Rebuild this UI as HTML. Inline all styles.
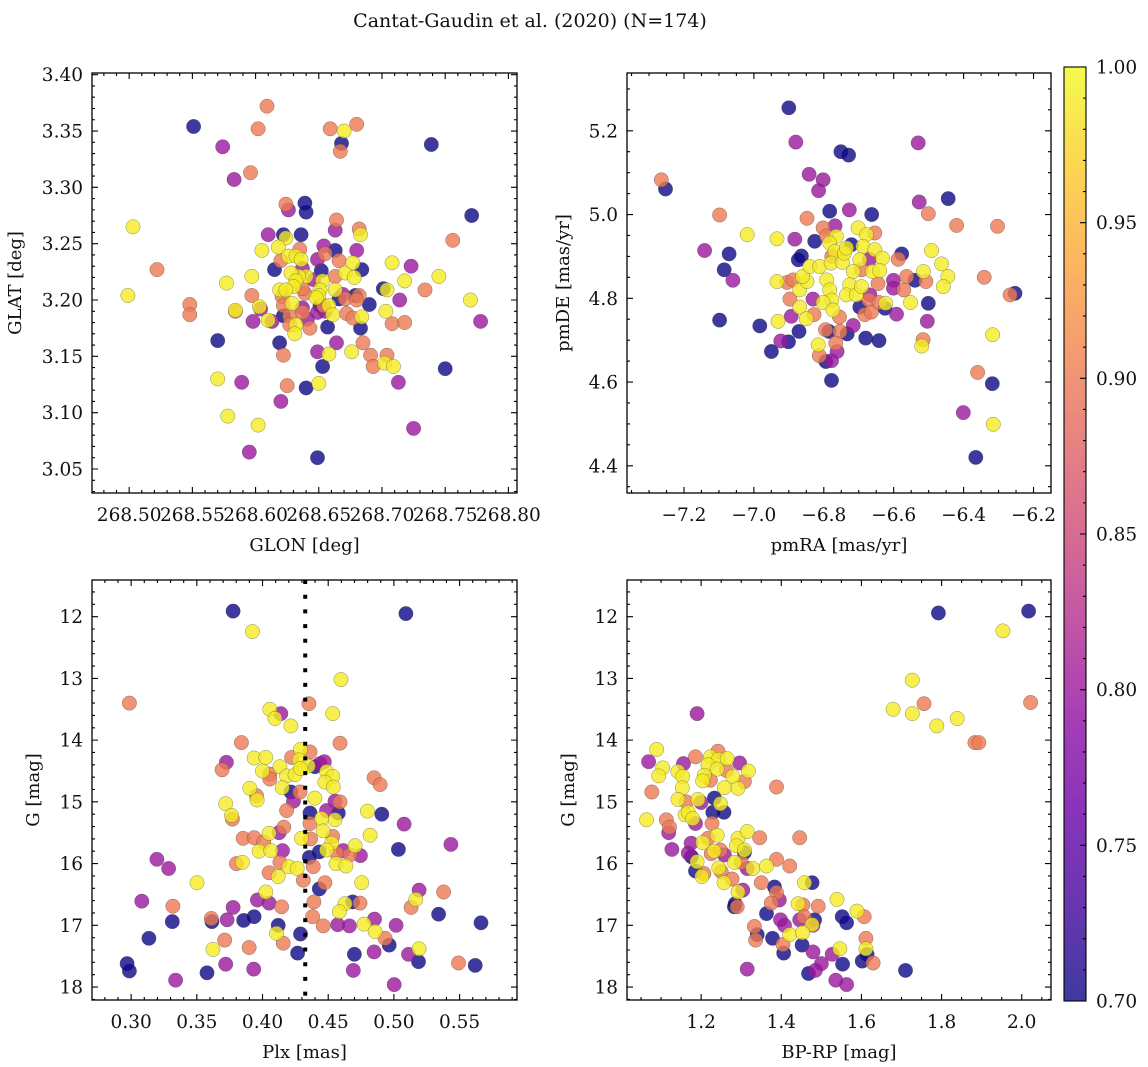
<!DOCTYPE html>
<html><head><meta charset="utf-8">
<style>
html,body{margin:0;padding:0;background:#fff;}
svg{display:block;font-family:"DejaVu Serif","Liberation Serif",serif;}
</style></head>
<body>
<svg id="fig" width="1148" height="1067" viewBox="0 0 1148 1067" xmlns="http://www.w3.org/2000/svg">
<text x="530" y="27" font-size="19" text-anchor="middle" fill="#111">Cantat-Gaudin et al. (2020) (N=174)</text>
</svg>
<script>
// ---- data (x, y, membership probability) ----
const glonGlat = [[268.551,3.354,.7],[268.609,3.372,.9],[268.602,3.352,.9],[268.574,3.336,.8],[268.583,3.307,.8],[268.596,3.313,.9],[268.659,3.352,.9],[268.670,3.350,.99],[268.680,3.356,.9],[268.668,3.339,.7],[268.667,3.332,.9],[268.739,3.338,.7],[268.503,3.265,.99],[268.522,3.227,.9],[268.499,3.204,.99],[268.548,3.196,.9],[268.548,3.187,.9],[268.570,3.164,.7],[268.570,3.130,.99],[268.578,3.097,.99],[268.589,3.127,.8],[268.602,3.089,.99],[268.595,3.065,.8],[268.620,3.110,.8],[268.625,3.124,.9],[268.640,3.122,.7],[268.650,3.126,.99],[268.649,3.060,.7],[268.653,3.141,.7],[268.649,3.154,.8],[268.658,3.152,.99],[268.664,3.162,.8],[268.676,3.154,.99],[268.685,3.162,.9],[268.691,3.151,.9],[268.693,3.141,.9],[268.702,3.144,.99],[268.704,3.151,.9],[268.709,3.141,.99],[268.713,3.127,.8],[268.725,3.086,.8],[268.750,3.139,.7],[268.771,3.275,.7],[268.756,3.253,.9],[268.745,3.221,.99],[268.734,3.209,.9],[268.708,3.233,.99],[268.718,3.217,.99],[268.723,3.230,.8],[268.770,3.200,.99],[268.778,3.181,.8],[268.714,3.200,.8],[268.704,3.209,.99],[268.701,3.210,.7],[268.703,3.190,.99],[268.708,3.179,.9],[268.718,3.180,.9],[268.690,3.196,.7],[268.684,3.185,.99],[268.683,3.175,.7],[268.684,3.227,.7],[268.680,3.244,.8],[268.682,3.263,.9],[268.683,3.258,.99],[268.664,3.271,.9],[268.663,3.262,.8],[268.663,3.244,.7],[268.666,3.235,.9],[268.671,3.224,.99],[268.677,3.233,.99],[268.678,3.220,.99],[268.669,3.205,.8],[268.671,3.201,.9],[268.679,3.204,.7],[268.682,3.204,.9],[268.680,3.200,.9],[268.672,3.188,.9],[268.677,3.184,.9],[268.663,3.209,.99],[268.666,3.201,.7],[268.658,3.195,.99],[268.661,3.187,.99],[268.657,3.176,.7],[268.663,3.221,.9],[268.654,3.248,.8],[268.655,3.241,.9],[268.649,3.236,.8],[268.652,3.226,.7],[268.653,3.217,.99],[268.651,3.209,.99],[268.650,3.204,.99],[268.648,3.202,.99],[268.646,3.218,.8],[268.651,3.195,.7],[268.649,3.189,.8],[268.654,3.195,.9],[268.655,3.190,.8],[268.641,3.183,.8],[268.643,3.175,.9],[268.639,3.206,.9],[268.637,3.210,.9],[268.640,3.221,.99],[268.634,3.221,.99],[268.637,3.228,.8],[268.636,3.258,.7],[268.639,3.286,.7],[268.640,3.278,.7],[268.624,3.285,.9],[268.626,3.280,.8],[268.624,3.255,.99],[268.622,3.258,.7],[268.610,3.258,.8],[268.605,3.244,.99],[268.618,3.247,.99],[268.626,3.239,.99],[268.635,3.245,.9],[268.632,3.239,.99],[268.636,3.236,.99],[268.615,3.227,.7],[268.620,3.235,.9],[268.628,3.224,.99],[268.632,3.217,.99],[268.630,3.212,.99],[268.619,3.209,.99],[268.624,3.209,.99],[268.621,3.203,.9],[268.629,3.197,.99],[268.622,3.195,.9],[268.622,3.186,.7],[268.627,3.186,.9],[268.627,3.178,.9],[268.632,3.178,.99],[268.631,3.170,.99],[268.637,3.189,.9],[268.637,3.193,.8],[268.597,3.221,.99],[268.597,3.204,.9],[268.577,3.215,.99],[268.584,3.190,.9],[268.584,3.191,.99],[268.604,3.192,.8],[268.603,3.194,.99],[268.610,3.182,.99],[268.613,3.181,.8],[268.598,3.181,.8],[268.619,3.162,.7],[268.622,3.151,.9]];

const pmPoints = [[-6.900,5.255,.7],[-6.880,5.173,.8],[-6.751,5.150,.7],[-6.729,5.142,.7],[-6.530,5.171,.8],[-7.265,5.083,.9],[-7.253,5.061,.7],[-6.842,5.096,.8],[-6.802,5.083,.8],[-6.815,5.057,.8],[-6.444,5.038,.7],[-6.527,5.030,.8],[-6.501,5.002,.9],[-6.783,5.008,.7],[-6.727,5.011,.8],[-6.663,5.000,.7],[-7.098,4.999,.9],[-6.420,4.974,.9],[-6.303,4.972,.9],[-7.019,4.952,.99],[-7.141,4.914,.8],[-7.071,4.906,.7],[-7.085,4.868,.7],[-7.060,4.843,.8],[-7.098,4.748,.7],[-6.983,4.734,.7],[-6.950,4.673,.7],[-6.923,4.698,.8],[-6.901,4.696,.7],[-6.871,4.721,.7],[-6.931,4.745,.99],[-6.848,4.991,.9],[-6.883,4.941,.8],[-6.934,4.942,.99],[-6.934,4.840,.99],[-6.826,4.936,.7],[-6.864,4.901,.7],[-6.873,4.892,.7],[-6.905,4.838,.9],[-6.888,4.844,.9],[-6.897,4.798,.9],[-6.893,4.757,.8],[-6.869,4.779,.99],[-6.850,4.751,.99],[-6.828,4.761,.9],[-6.831,4.798,.8],[-6.869,4.820,.99],[-6.848,4.840,.99],[-6.861,4.852,.99],[-6.840,4.876,.99],[-6.812,4.876,.99],[-6.802,4.968,.9],[-6.792,4.949,.9],[-6.768,4.973,.8],[-6.764,4.948,.99],[-6.783,4.932,.99],[-6.768,4.912,.99],[-6.777,4.900,.9],[-6.779,4.884,.99],[-6.792,4.844,.99],[-6.783,4.820,.99],[-6.777,4.796,.99],[-6.802,4.790,.99],[-6.774,4.772,.99],[-6.755,4.755,.9],[-6.795,4.725,.9],[-6.785,4.721,.7],[-6.754,4.721,.9],[-6.766,4.693,.9],[-6.762,4.673,.8],[-6.816,4.689,.99],[-6.813,4.663,.9],[-6.794,4.649,.7],[-6.778,4.651,.8],[-6.778,4.604,.7],[-6.733,4.715,.7],[-6.716,4.735,.8],[-6.680,4.705,.7],[-6.642,4.699,.7],[-6.747,4.886,.99],[-6.741,4.908,.99],[-6.721,4.928,.7],[-6.735,4.920,.99],[-6.702,4.968,.99],[-6.678,4.952,.99],[-6.654,4.956,.9],[-6.688,4.924,.99],[-6.654,4.916,.99],[-6.632,4.896,.99],[-6.669,4.893,.8],[-6.697,4.892,.99],[-6.716,4.864,.99],[-6.692,4.868,.9],[-6.661,4.864,.99],[-6.640,4.866,.99],[-6.645,4.835,.9],[-6.726,4.832,.99],[-6.735,4.808,.99],[-6.707,4.808,.99],[-6.692,4.828,.99],[-6.668,4.808,.8],[-6.697,4.779,.7],[-6.671,4.796,.9],[-6.683,4.761,.9],[-6.664,4.767,.9],[-6.625,4.776,.7],[-6.623,4.788,.99],[-6.642,4.790,.9],[-6.592,4.762,.8],[-6.601,4.843,.8],[-6.601,4.824,.8],[-6.571,4.820,.9],[-6.563,4.852,.9],[-6.587,4.893,.9],[-6.577,4.906,.7],[-6.539,4.843,.7],[-6.508,4.840,.9],[-6.515,4.864,.99],[-6.492,4.914,.99],[-6.463,4.882,.99],[-6.445,4.852,.99],[-6.458,4.828,.99],[-6.552,4.790,.99],[-6.501,4.788,.7],[-6.504,4.745,.8],[-6.516,4.701,.9],[-6.520,4.686,.99],[-6.341,4.850,.9],[-6.267,4.808,.9],[-6.253,4.812,.7],[-6.317,4.713,.99],[-6.360,4.623,.9],[-6.318,4.596,.7],[-6.401,4.527,.8],[-6.315,4.499,.99],[-6.365,4.420,.7]];

const plxG = [[.3776,11.91,.7],[.5091,11.95,.7],[.3923,12.24,.99],[.4597,13.02,.99],[.2987,13.40,.9],[.4353,13.41,.9],[.4055,13.50,.99],[.4139,13.57,.8],[.4094,13.65,.99],[.4534,13.57,.99],[.4216,13.77,.99],[.3839,14.04,.9],[.4590,14.05,.9],[.3725,14.36,.8],[.3692,14.48,.9],[.3936,14.29,.99],[.4025,14.28,.99],[.4221,14.28,.9],[.4289,14.15,.99],[.4361,14.19,.9],[.4279,14.32,.99],[.4348,14.42,.99],[.4399,14.43,.7],[.4437,14.38,.8],[.4470,14.35,.8],[.4132,14.43,.99],[.4000,14.50,.99],[.4055,14.55,.9],[.4055,14.63,.9],[.4183,14.58,.99],[.4247,14.56,.99],[.4289,14.46,.99],[.4488,14.51,.99],[.4534,14.59,.99],[.4475,14.68,.99],[.4539,14.76,.99],[.4849,14.61,.9],[.4895,14.72,.9],[.3903,14.78,.99],[.3954,14.90,.9],[.3959,14.97,.99],[.4150,14.77,.99],[.4216,14.84,.7],[.4285,14.84,.9],[.4236,14.99,.8],[.4399,14.94,.99],[.3720,15.03,.99],[.3764,15.22,.99],[.3771,15.28,.9],[.4183,15.14,.9],[.4361,15.18,.7],[.4488,15.14,.8],[.4552,14.99,.8],[.4590,15.00,.9],[.4577,15.18,.7],[.4552,15.29,.99],[.4450,15.27,.99],[.4361,15.35,.9],[.4798,15.15,.99],[.4908,15.20,.7],[.5078,15.36,.8],[.4162,15.41,.9],[.4126,15.50,.8],[.4050,15.51,.99],[.3852,15.59,.9],[.3936,15.58,.9],[.4009,15.65,.9],[.3974,15.80,.99],[.4063,15.79,.99],[.4152,15.79,.8],[.4297,15.59,.99],[.4366,15.60,.9],[.4462,15.47,.99],[.4534,15.56,.9],[.4526,15.67,.99],[.4488,15.78,.99],[.4432,15.81,.7],[.4356,15.90,.7],[.4564,15.83,.9],[.4615,15.79,.8],[.4666,15.86,.9],[.4745,15.87,.8],[.4705,15.71,.99],[.4819,15.54,.99],[.5034,15.77,.7],[.5434,15.69,.8],[.3801,16.00,.9],[.3847,15.98,.99],[.3196,15.93,.8],[.3285,16.08,.8],[.3501,16.31,.99],[.4132,15.98,.9],[.4050,16.15,.9],[.4119,16.21,.99],[.4200,16.05,.99],[.4264,16.08,.99],[.4310,16.27,.9],[.4386,16.05,.9],[.4559,16.00,.99],[.4635,16.04,.99],[.4755,16.31,.99],[.4475,16.31,.9],[.4432,16.41,.7],[.4025,16.46,.99],[.3961,16.59,.8],[.4050,16.64,.8],[.4145,16.70,.9],[.3776,16.71,.8],[.3318,16.69,.9],[.3081,16.61,.8],[.4628,16.65,.99],[.4686,16.62,.7],[.4742,16.64,.9],[.4585,16.78,.99],[.4391,16.62,.9],[.4381,16.86,.9],[.4462,17.01,.9],[.4572,16.99,.8],[.4661,17.01,.8],[.4852,16.90,.8],[.4773,16.98,.99],[.4857,17.10,.99],[.4933,17.21,.9],[.4964,17.32,.7],[.5017,17.00,.8],[.5131,16.71,.9],[.5167,16.58,.99],[.5192,16.43,.8],[.5378,16.46,.9],[.5340,16.82,.7],[.5663,16.96,.7],[.5492,17.61,.9],[.5619,17.65,.7],[.5187,17.59,.7],[.5111,17.47,.8],[.5192,17.38,.99],[.4849,17.43,.8],[.4699,17.47,.7],[.4691,17.73,.8],[.5002,17.96,.8],[.4289,17.14,.7],[.4267,17.45,.7],[.4119,17.00,.7],[.4106,17.13,.99],[.4157,17.29,.9],[.3936,16.86,.7],[.3857,16.92,.7],[.3730,16.91,.8],[.3615,16.94,.7],[.3610,16.89,.9],[.3313,16.94,.7],[.3135,17.21,.7],[.2969,17.62,.7],[.2987,17.74,.7],[.3338,17.89,.8],[.3623,17.39,.99],[.3712,17.24,.9],[.3720,17.63,.8],[.3898,17.36,.9],[.3933,17.71,.8],[.3577,17.77,.7]];

const bprpG = [[1.792,11.94,.7],[2.017,11.91,.7],[1.953,12.23,.99],[1.727,13.03,.99],[2.022,13.39,.9],[1.756,13.41,.9],[1.679,13.50,.99],[1.727,13.57,.99],[1.839,13.65,.99],[1.788,13.77,.99],[1.883,14.04,.9],[1.893,14.04,.9],[1.190,13.57,.8],[1.089,14.15,.99],[1.069,14.35,.8],[1.104,14.45,.99],[1.094,14.58,.99],[1.156,14.38,.8],[1.186,14.27,.9],[1.142,14.51,.99],[1.154,14.59,.99],[1.153,14.77,.99],[1.142,14.96,.99],[1.077,14.84,.9],[1.064,15.29,.99],[1.113,15.29,.9],[1.121,15.41,.9],[1.119,15.50,.8],[1.127,15.77,.8],[1.168,15.83,.8],[1.176,15.89,.7],[1.186,16.12,.7],[1.190,15.97,.99],[1.202,16.21,.99],[1.207,16.16,.9],[1.163,15.00,.9],[1.160,15.21,.99],[1.168,15.17,.99],[1.179,15.27,.99],[1.186,15.35,.8],[1.192,14.96,.99],[1.200,15.01,.8],[1.223,14.27,.99],[1.242,14.18,.9],[1.243,14.31,.99],[1.217,14.40,.99],[1.240,14.47,.99],[1.208,14.57,.99],[1.223,14.65,.9],[1.204,14.66,.99],[1.265,14.30,.99],[1.263,14.49,.9],[1.279,14.59,.99],[1.258,14.77,.99],[1.292,14.78,.99],[1.308,14.67,.9],[1.296,14.37,.8],[1.318,14.50,.99],[1.388,14.76,.9],[1.233,14.94,.7],[1.248,15.03,.99],[1.229,15.17,.7],[1.257,15.17,.7],[1.227,15.35,.9],[1.204,15.66,.99],[1.217,15.59,.9],[1.240,15.54,.99],[1.175,15.67,.8],[1.232,15.80,.99],[1.248,15.78,.9],[1.225,15.84,.9],[1.258,15.86,.8],[1.244,16.07,.99],[1.250,16.13,.9],[1.283,15.98,.99],[1.300,15.98,.9],[1.292,15.59,.99],[1.288,15.71,.99],[1.315,15.48,.99],[1.346,15.58,.9],[1.308,15.82,.7],[1.308,15.78,.99],[1.315,16.08,.8],[1.329,16.08,.99],[1.363,16.04,.99],[1.388,15.93,.9],[1.421,16.04,.9],[1.446,15.58,.9],[1.257,16.31,.99],[1.277,16.25,.9],[1.292,16.46,.99],[1.304,16.43,.8],[1.285,16.65,.7],[1.283,16.70,.7],[1.290,16.70,.9],[1.350,16.31,.9],[1.383,16.38,.7],[1.388,16.47,.9],[1.395,16.59,.8],[1.375,16.64,.9],[1.363,16.81,.7],[1.333,17.02,.9],[1.340,17.15,.7],[1.336,17.24,.9],[1.378,17.21,.7],[1.398,16.91,.8],[1.408,17.00,.8],[1.421,17.15,.99],[1.404,17.31,.9],[1.406,17.45,.7],[1.458,16.31,.99],[1.477,16.31,.7],[1.442,16.65,.99],[1.454,16.67,.9],[1.492,16.69,.9],[1.446,16.91,.8],[1.457,16.86,.9],[1.483,16.91,.7],[1.479,17.00,.8],[1.477,16.99,.99],[1.453,17.12,.99],[1.452,17.32,.7],[1.479,17.43,.8],[1.500,17.62,.8],[1.485,17.73,.8],[1.468,17.78,.7],[1.527,17.47,.8],[1.553,17.63,.7],[1.546,17.38,.99],[1.552,16.86,.7],[1.563,16.96,.7],[1.539,16.58,.99],[1.589,16.77,.99],[1.607,16.86,.9],[1.611,17.21,.9],[1.611,17.38,.99],[1.614,17.47,.7],[1.602,17.58,.7],[1.629,17.61,.9],[1.536,17.89,.8],[1.563,17.96,.8],[1.710,17.73,.7],[1.315,17.71,.8]];

// tick labels
const glonTicks = [268.50,268.55,268.60,268.65,268.70,268.75,268.80];
const glatTicks = [3.05,3.10,3.15,3.20,3.25,3.30,3.35,3.40];
const pmraTicks = [-7.2,-7.0,-6.8,-6.6,-6.4,-6.2];
const pmdeTicks = [4.4,4.6,4.8,5.0,5.2];
const plxTicks = [0.30,0.35,0.40,0.45,0.50,0.55];
const gTicks = [12,13,14,15,16,17,18];
const bprpTicks = [1.2,1.4,1.6,1.8,2.0];
const cbarTicks = [0.70,0.75,0.80,0.85,0.90,0.95,1.00];
const plxReference = 0.4325;

// ---- rendering ----
const NS = "http://www.w3.org/2000/svg";
const svg = document.getElementById('fig');
function el(tag, attrs, parent){
  const e = document.createElementNS(NS, tag);
  for (const k in attrs) e.setAttribute(k, attrs[k]);
  (parent||svg).appendChild(e);
  return e;
}
const stops = ['#0d0887','#41049d','#6a00a8','#8f0da4','#b12a90','#cc4778','#e16462','#f2844b','#fca636','#fcce25','#f0f921'];
function hex(c){return [parseInt(c.slice(1,3),16),parseInt(c.slice(3,5),16),parseInt(c.slice(5,7),16)];}
function plasma(p){
  let t = (p-0.7)/0.3; t = Math.max(0, Math.min(1, t));
  const f = t*10, i = Math.min(9, Math.floor(f)), u = f-i;
  const a = hex(stops[i]), b = hex(stops[i+1]);
  return 'rgb(' + a.map((v,k)=>Math.round(v+(b[k]-v)*u)).join(',') + ')';
}
function fmt(v,d){ const s = v.toFixed(d); return s.replace('-', '\u2212'); }

function panel(cfg){
  const {name,L,R,T,B,x0,x1,y0,y1,invert,xt,yt,xd,yd,xminor,yminor,xlabel,ylabel,pts,ylabX} = cfg;
  const sx = v => L + (v-x0)/(x1-x0)*(R-L);
  const sy = invert ? (v => T + (v-y0)/(y1-y0)*(B-T)) : (v => B - (v-y0)/(y1-y0)*(B-T));
  const g = el('g', {});
  
  
  const sorted = pts.slice().sort((a,b)=>a[2]-b[2]);
  const pg = el('g', {}, g);
  
  
  sorted.forEach(p=>{
    const c = el('circle', {cx:sx(p[0]).toFixed(1), cy:sy(p[1]).toFixed(1), r:7.2, fill:plasma(p[2]), 'fill-opacity':0.8, stroke:'#444', 'stroke-opacity':0.6, 'stroke-width':0.5}, pg);
    
    
  });
  if (cfg.refLine !== undefined){
    const ln = el('line', {x1:sx(cfg.refLine), x2:sx(cfg.refLine), y1:T, y2:B, stroke:'#000', 'stroke-width':4, 'stroke-dasharray':'4 10.7'}, g);
    
    
  }
  const fr = el('rect', {x:L, y:T, width:R-L, height:B-T, fill:'none', stroke:'#000', 'stroke-width':1.3}, g);
  
  
  let d = '';
  const mx0 = Math.ceil(x0/xminor - 1e-6), mx1 = Math.floor(x1/xminor + 1e-6);
  for (let i=mx0;i<=mx1;i++){ const x = sx(i*xminor); d += `M${x},${B}v-3M${x},${T}v3`; }
  const my0 = Math.ceil(Math.min(y0,y1)/yminor - 1e-6), my1 = Math.floor(Math.max(y0,y1)/yminor + 1e-6);
  for (let i=my0;i<=my1;i++){ const y = sy(i*yminor); d += `M${L},${y}h3M${R},${y}h-3`; }
  xt.forEach(v=>{ const x = sx(v); d += `M${x},${B}v-6M${x},${T}v6`; });
  yt.forEach(v=>{ const y = sy(v); d += `M${L},${y}h6M${R},${y}h-6`; });
  const tk = el('path', {d, stroke:'#000', 'stroke-width':1.1, fill:'none'}, g);
  
  
  xt.forEach(v=>{
    const t = el('text', {x:sx(v), y:B+28, 'font-size':18.5, 'text-anchor':'middle', fill:'#111'}, g);
    t.textContent = fmt(v,xd);
    
    
  });
  yt.forEach(v=>{
    const t = el('text', {x:L-9, y:sy(v)+6.5, 'font-size':18.5, 'text-anchor':'end', fill:'#111'}, g);
    t.textContent = fmt(v,yd);
    
    
  });
  const xl = el('text', {x:(L+R)/2, y:B+58, 'font-size':18, 'text-anchor':'middle', fill:'#111'}, g);
  xl.textContent = xlabel;
  
  
  const yl = el('text', {x:ylabX, y:(T+B)/2, 'font-size':18, 'text-anchor':'middle', fill:'#111', transform:`rotate(-90 ${ylabX} ${(T+B)/2})`}, g);
  yl.textContent = ylabel;
  
  
}

panel({name:'glon-glat-panel', L:92, R:517, T:73, B:493, x0:268.4706, x1:268.8068, y0:3.0287, y1:3.4015, invert:false,
  xt:glonTicks, yt:glatTicks, xd:2, yd:2, xminor:0.01, yminor:0.01, xlabel:'GLON [deg]', ylabel:'GLAT [deg]', pts:glonGlat, ylabX:21});
panel({name:'proper-motion-panel', L:627, R:1051, T:73, B:493, x0:-7.363, x1:-6.150, y0:4.335, y1:5.338, invert:false,
  xt:pmraTicks, yt:pmdeTicks, xd:1, yd:1, xminor:0.05, yminor:0.05, xlabel:'pmRA [mas/yr]', ylabel:'pmDE [mas/yr]', pts:pmPoints, ylabX:569});
panel({name:'parallax-mag-panel', L:92, R:517, T:580, B:1000, x0:0.2702, x1:0.5937, y0:11.406, y1:18.21, invert:true,
  xt:plxTicks, yt:gTicks, xd:2, yd:0, xminor:0.01, yminor:0.2, xlabel:'Plx [mas]', ylabel:'G [mag]', pts:plxG, ylabX:39, refLine:plxReference});
panel({name:'cmd-panel', L:627, R:1051, T:580, B:1000, x0:1.015, x1:2.073, y0:11.406, y1:18.21, invert:true,
  xt:bprpTicks, yt:gTicks, xd:1, yd:0, xminor:0.05, yminor:0.2, xlabel:'BP-RP [mag]', ylabel:'G [mag]', pts:bprpG, ylabX:574});

// colorbar
(function(){
  const L=1064, R=1086, T=67, B=1001;
  const defs = el('defs', {});
  const lg = el('linearGradient', {id:'plasmaGrad', x1:0, y1:1, x2:0, y2:0}, defs);
  stops.forEach((c,i)=>el('stop', {offset:(i/10), 'stop-color':c, 'stop-opacity':0.8}, lg));
  const g = el('g', {});
  
  
  el('rect', {x:L, y:T, width:R-L, height:B-T, fill:'url(#plasmaGrad)', stroke:'#000', 'stroke-width':1.1}, g);
  const cy = v => B - (v-0.70)/0.30*(B-T);
  let d='';
  for (let i=70;i<=100;i++){ const y = cy(i/100); d += `M${R},${y}h${i%5===0?-6:-3}`; }
  el('path', {d, stroke:'#000', 'stroke-width':1.1}, g);
  cbarTicks.forEach(v=>{
    const t = el('text', {x:R+10, y:cy(v)+6.5, 'font-size':18.5, fill:'#111'}, g);
    t.textContent = v.toFixed(2);
    
    
  });
})();
</script>
</body></html>
